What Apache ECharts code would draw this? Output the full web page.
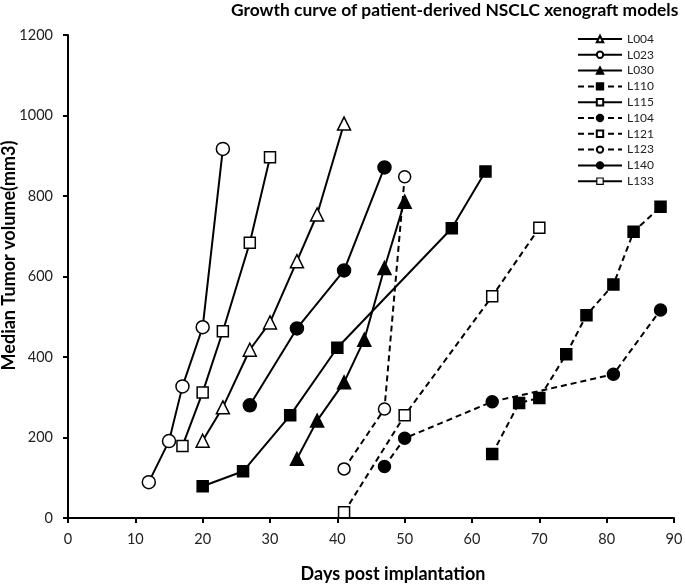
<!DOCTYPE html>
<html>
<head>
<meta charset="utf-8">
<script src="https://cdn.jsdelivr.net/npm/echarts@6/dist/echarts.min.js"></script>
<style>
  html, body { margin: 0; padding: 0; background: #fff; }
  #chart { width: 685px; height: 586px; }
</style>
</head>
<body>
<div id="chart"></div>
<script>
// [day, median tumor volume]
var L004 = [[20, 192], [23, 275], [27, 418], [30, 486], [34, 638], [37, 754], [41, 980]];
var L023 = [[12, 89], [15, 191], [17, 327], [20, 474], [23, 917]];
var L030 = [[34, 147], [37, 242], [41, 337], [44, 443], [47, 621], [50, 786]];
var L110 = [[63, 159], [67, 286], [70, 298], [74, 407], [77, 504], [81, 580], [84, 711], [88, 773]];
var L115 = [[17, 179], [20, 312], [23, 464], [27, 684], [30, 896]];
var L104 = [[47, 128], [50, 198], [63, 289], [81, 357], [88, 517]];
var L121 = [[41, 14], [50, 255], [63, 551], [70, 721]];
var L123 = [[41, 122], [47, 271], [50, 848]];
var L140 = [[27, 280], [34, 471], [41, 615], [47, 871]];
var L133 = [[20, 79], [26, 116], [33, 255], [40, 423], [57, 720], [62, 861]];

var xTicks = [0, 10, 20, 30, 40, 50, 60, 70, 80, 90];
var yTicks = [0, 200, 400, 600, 800, 1000, 1200];

var font = 'Lato, "Open Sans", sans-serif';

function mk(name, data, symbol, filled, dashed, size) {
    return {
        name: name,
        type: 'line',
        data: data,
        symbol: symbol,
        symbolSize: size,
        showSymbol: true,
        z: filled ? 3 : 4,
        itemStyle: {
            color: filled ? '#000' : '#fff',
            borderColor: '#000',
            borderWidth: 1.5,
            opacity: 1
        },
        lineStyle: {
            color: '#000',
            width: 2,
            type: dashed ? [6, 4] : 'solid'
        },
        emphasis: { disabled: true },
        animation: false
    };
}

var chart = echarts.init(document.getElementById('chart'));
var option = {
    backgroundColor: '#fff',
    title: {
        text: 'Growth curve of patient-derived NSCLC xenograft models',
        left: 226,
        top: -3,
        textStyle: { fontFamily: font, fontWeight: 'bold', fontSize: 17.4, color: '#000' }
    },
    legend: {
        orient: 'vertical',
        left: 577,
        top: 33,
        padding: 0,
        itemWidth: 44,
        itemHeight: 8,
        itemGap: 3.8,
        textStyle: { fontFamily: font, fontSize: 12, lineHeight: 12, color: '#222' },
        data: ['L004', 'L023', 'L030', 'L110', 'L115', 'L104', 'L121', 'L123', 'L140',
            { name: 'L133', itemStyle: { color: '#fff', borderColor: '#000', borderWidth: 1.2 } }]
    },
    grid: { left: 68, right: 11, top: 35, bottom: 68, outerBoundsMode: 'none' },
    xAxis: {
        type: 'value',
        min: 0,
        max: 90,
        interval: 10,
        name: 'Days post implantation',
        nameLocation: 'middle',
        nameGap: 47,
        nameMoveOverlap: false,
        nameTextStyle: { fontFamily: font, fontWeight: 'bold', fontSize: 18, color: '#000', padding: [0, 0, 0, 44] },
        axisLine: { lineStyle: { color: '#000', width: 2 } },
        axisTick: { show: true, length: 5, lineStyle: { color: '#000', width: 2 } },
        axisLabel: {
            fontFamily: font, fontSize: 14.5, color: '#222', margin: 14,
            formatter: function (v) { return xTicks.indexOf(v) >= 0 ? String(v) : ''; }
        },
        splitLine: { show: false }
    },
    yAxis: {
        type: 'value',
        min: 0,
        max: 1200,
        interval: 200,
        name: 'Median Tumor volume(mm3)',
        nameLocation: 'middle',
        nameGap: 50,
        nameMoveOverlap: false,
        nameTextStyle: { fontFamily: font, fontWeight: 'bold', fontSize: 18, color: '#000', padding: [0, 0, 0, 42] },
        axisLine: { show: true, lineStyle: { color: '#000', width: 2 } },
        axisTick: { show: true, length: 5, lineStyle: { color: '#000', width: 2 } },
        axisLabel: {
            fontFamily: font, fontSize: 14.5, color: '#222', margin: 15,
            formatter: function (v) { return yTicks.indexOf(v) >= 0 ? String(v) : ''; }
        },
        splitLine: { show: false }
    },
    series: [
        mk('L004', L004, 'triangle', false, false, 13),
        mk('L023', L023, 'circle', false, false, 13),
        mk('L030', L030, 'triangle', true, false, 13),
        mk('L110', L110, 'rect', true, true, 11),
        mk('L115', L115, 'rect', false, false, 11),
        mk('L104', L104, 'circle', true, true, 12),
        mk('L121', L121, 'rect', false, true, 11),
        mk('L123', L123, 'circle', false, true, 12),
        mk('L140', L140, 'circle', true, false, 13),
        mk('L133', L133, 'rect', true, false, 11)
    ]
};
chart.setOption(option);
</script>
</body>
</html>
